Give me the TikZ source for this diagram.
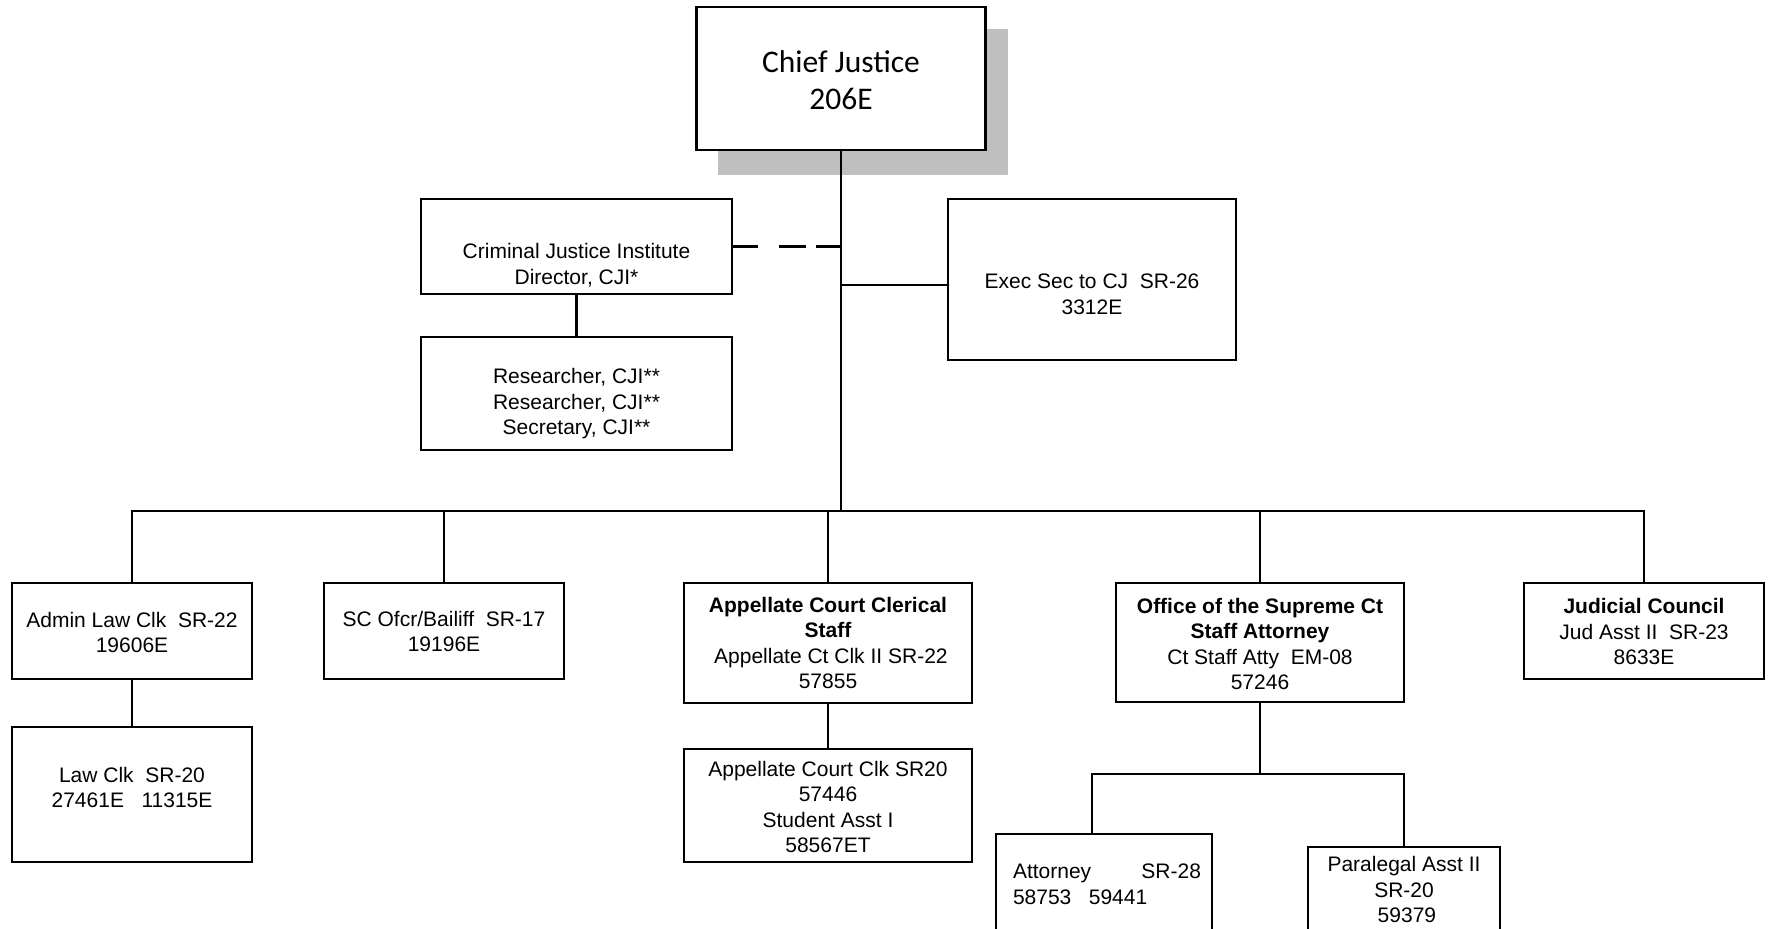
\documentclass[tikz,border=0pt]{standalone}
\usepackage{fontspec}
\setmainfont{Liberation Sans}
\newfontfamily\calib{Carlito}
\definecolor{shadowgray}{RGB}{191,191,191}
\tikzset{
  box/.style={draw, line width=2.6pt, fill=white, rectangle, inner sep=0pt},
  txt/.style={inner sep=0pt, align=center, font=\fontsize{21}{25.5}\selectfont},
  conn/.style={line width=2.6pt, line join=miter},
}
\begin{document}
\begin{tikzpicture}[x=1pt,y=-1pt]
\useasboundingbox (0,0) rectangle (1773,929);
\clip (0,0) rectangle (1773,929);
\fill[white] (0,0) rectangle (1773,929);
% shadow and chief
\fill[shadowgray] (718,29) rectangle (1008,175);
\node[box, minimum width=289pt, minimum height=143pt] (chief) at (841,78.5) {};
\node[txt, font=\calib\fontsize{31.5}{37}\selectfont] (chiefT) at (841,80) {Chief Justice\\206E};
% upper boxes
\node[box, minimum width=311pt, minimum height=95pt] (cji) at (576.5,246.5) {};
\node[txt] (cjiT) at (576.5,265) {Criminal Justice Institute\\Director, CJI*};
\node[box, minimum width=311pt, minimum height=113pt] (res) at (576.5,393.5) {};
\node[txt] (resT) at (576.5,404) {Researcher, CJI**\\Researcher, CJI**\\Secretary, CJI**};
\node[box, minimum width=288pt, minimum height=161pt] (exec) at (1092,279.5) {};
\node[txt] (execT) at (1092,294.5) {Exec Sec to CJ\ \ SR-26\\3312E};
% lower boxes
\node[box, minimum width=240pt, minimum height=96pt] (admin) at (132,631) {};
\node[txt] (adminT) at (132,632.5) {Admin Law Clk\ \ SR-22\\19606E};
\node[box, minimum width=240pt, minimum height=135pt] (lawclk) at (132,794.5) {};
\node[txt] (lawclkT) at (132,787.5) {Law Clk\ \ SR-20\\27461E\ \ \ 11315E};
\node[box, minimum width=240pt, minimum height=96pt] (sc) at (444,631) {};
\node[txt] (scT) at (444,631.5) {SC Ofcr/Bailiff\ \ SR-17\\19196E};
\node[box, minimum width=288pt, minimum height=120pt] (app) at (828,643) {};
\node[txt] (appT) at (828,643) {\textbf{Appellate Court Clerical}\\\textbf{Staff}\\\ Appellate Ct Clk II SR-22\\57855};
\node[box, minimum width=288pt, minimum height=113pt] (appsub) at (828,805.5) {};
\node[txt] (appsubT) at (828,807) {Appellate Court Clk SR20\\57446\\Student Asst I\\58567ET};
\node[box, minimum width=288pt, minimum height=119pt] (office) at (1260,642.5) {};
\node[txt] (officeT) at (1260,644) {\textbf{Office of the Supreme Ct}\\\textbf{Staff Attorney}\\Ct Staff Atty\ \ EM-08\\57246};
\node[box, minimum width=240pt, minimum height=96pt] (jud) at (1644,631) {};
\node[txt] (judT) at (1644,631.5) {\textbf{Judicial Council}\\Jud Asst II\ \ SR-23\\8633E};
\node[box, minimum width=216pt, minimum height=130pt] (atty) at (1104,899) {};
\node[txt, align=left] (attyT) at (1107,884.5) {\makebox[188pt][l]{Attorney\hfill SR-28}\\58753\ \ \ 59441};
\node[box, minimum width=192pt, minimum height=117pt] (para) at (1404,905.5) {};
\node[txt] (paraT) at (1404,889.5) {Paralegal Asst II\\SR-20\\\ 59379};
% connectors
\coordinate (busL) at (132,511);
\coordinate (ej) at (841,285);
\coordinate (subL) at (1092,774);
\draw[conn] (chief.south) -- (chief.south |- busL);
\draw[conn] (admin.north) -- (admin.north |- busL) -- (jud.north |- busL) -- (jud.north);
\draw[conn] (sc.north) -- (sc.north |- busL);
\draw[conn] (app.north) -- (app.north |- busL);
\draw[conn] (office.north) -- (office.north |- busL);
\draw[conn] (ej) -- (ej -| exec.west);
\draw[conn, dash pattern=on 25pt off 21pt on 27pt off 10pt on 40pt] (cji.east) -- (cji.east -| chief.south);
\draw[conn] (cji.south) -- (res.north);
\draw[conn] (admin.south) -- (lawclk.north);
\draw[conn] (app.south) -- (appsub.north);
\draw[conn] (office.south) -- (office.south |- subL);
\draw[conn] (subL |- atty.north) -- (subL) -- (para.north |- subL) -- (para.north);
\end{tikzpicture}
\end{document}
